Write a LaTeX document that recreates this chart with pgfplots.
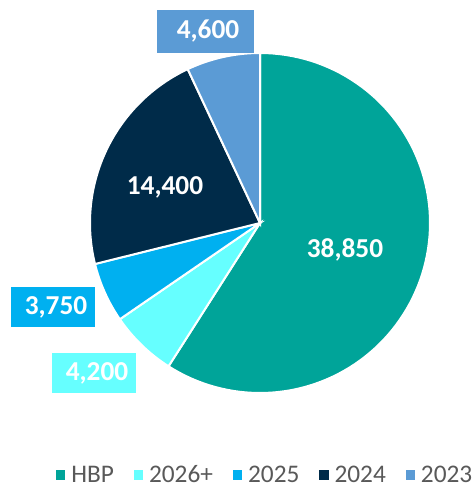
\documentclass[border=0pt]{standalone}
\usepackage{pgfplots}
\pgfplotsset{compat=1.18}
\usepackage{fontspec}
\setmainfont{Carlito}
\definecolor{cHBP}{HTML}{00A499}
\definecolor{cA}{HTML}{66FFFF}
\definecolor{cB}{HTML}{00B0F0}
\definecolor{cC}{HTML}{002B49}
\definecolor{cD}{HTML}{5B9BD5}
\definecolor{legtxt}{HTML}{595959}
% data
\def\vHBP{38850}
\def\vA{4200}
\def\vB{3750}
\def\vC{14400}
\def\vD{4600}
\edef\tot{\fpeval{\vHBP+\vA+\vB+\vC+\vD}}
\edef\aO{90}
\edef\aI{\fpeval{\aO-360*\vHBP/\tot}}
\edef\aII{\fpeval{\aI-360*\vA/\tot}}
\edef\aIII{\fpeval{\aII-360*\vB/\tot}}
\edef\aIV{\fpeval{\aIII-360*\vC/\tot}}
\edef\aV{\fpeval{\aIV-360*\vD/\tot}}
\def\cx{260}\def\cy{264}\def\R{170}
\begin{document}
\begin{tikzpicture}
\begin{axis}[
  scale only axis, width=355.5pt, height=365.25pt,
  xmin=0, xmax=474, ymin=0, ymax=487,
  hide axis, clip=false,
  legend columns=5,
  legend image code/.code={\fill[#1,draw=none] (0pt,-3.4pt) rectangle (6.8pt,3.4pt);},
  legend style={draw=none, fill=none, at={(axis cs:56,12)}, anchor=west, inner sep=0pt,
    nodes={inner ysep=0pt},
    font=\fontsize{19}{22}\selectfont\color{legtxt},
    /tikz/every odd column/.append style={column sep=2.5pt},
    /tikz/every even column/.append style={column sep=13pt}},
]
\addplot[fill=cHBP, draw=white, line width=1.5pt, domain=\aI:\aO, samples=100, variable=\t]
  ({\cx+\R*cos(\t)},{\cy+\R*sin(\t)}) -- (axis cs:\cx,\cy) -- cycle;
\addlegendentry{HBP}
\addplot[fill=cA, draw=white, line width=1.5pt, domain=\aII:\aI, samples=30, variable=\t]
  ({\cx+\R*cos(\t)},{\cy+\R*sin(\t)}) -- (axis cs:\cx,\cy) -- cycle;
\addlegendentry{2026+}
\addplot[fill=cB, draw=white, line width=1.5pt, domain=\aIII:\aII, samples=30, variable=\t]
  ({\cx+\R*cos(\t)},{\cy+\R*sin(\t)}) -- (axis cs:\cx,\cy) -- cycle;
\addlegendentry{2025}
\addplot[fill=cC, draw=white, line width=1.5pt, domain=\aIV:\aIII, samples=60, variable=\t]
  ({\cx+\R*cos(\t)},{\cy+\R*sin(\t)}) -- (axis cs:\cx,\cy) -- cycle;
\addlegendentry{2024}
\addplot[fill=cD, draw=white, line width=1.5pt, domain=\aV:\aIV, samples=30, variable=\t]
  ({\cx+\R*cos(\t)},{\cy+\R*sin(\t)}) -- (axis cs:\cx,\cy) -- cycle;
\addlegendentry{2023}
% labels
\node[font=\fontsize{20.5}{22}\selectfont\bfseries, text=white] at (axis cs:345,237) {38,850};
\node[font=\fontsize{20.5}{22}\selectfont\bfseries, text=white] at (axis cs:165,300) {14,400};
\node[fill=cD, minimum width=72.75pt, minimum height=32.25pt, inner sep=0pt] at (axis cs:205.5,455.5) {};
\node[font=\fontsize{20.5}{22}\selectfont\bfseries, text=white] at (axis cs:208,455.5) {4,600};
\node[fill=cB, minimum width=63pt, minimum height=30pt, inner sep=0pt] at (axis cs:53,180) {};
\node[font=\fontsize{20.5}{22}\selectfont\bfseries, text=white] at (axis cs:56,180) {3,750};
\node[fill=cA, minimum width=63pt, minimum height=30pt, inner sep=0pt] at (axis cs:94,114) {};
\node[font=\fontsize{20.5}{22}\selectfont\bfseries, text=white] at (axis cs:97,114) {4,200};
\end{axis}
\pgfresetboundingbox
\path[use as bounding box] (current axis.south west) rectangle (current axis.north east);
\end{tikzpicture}
\end{document}
